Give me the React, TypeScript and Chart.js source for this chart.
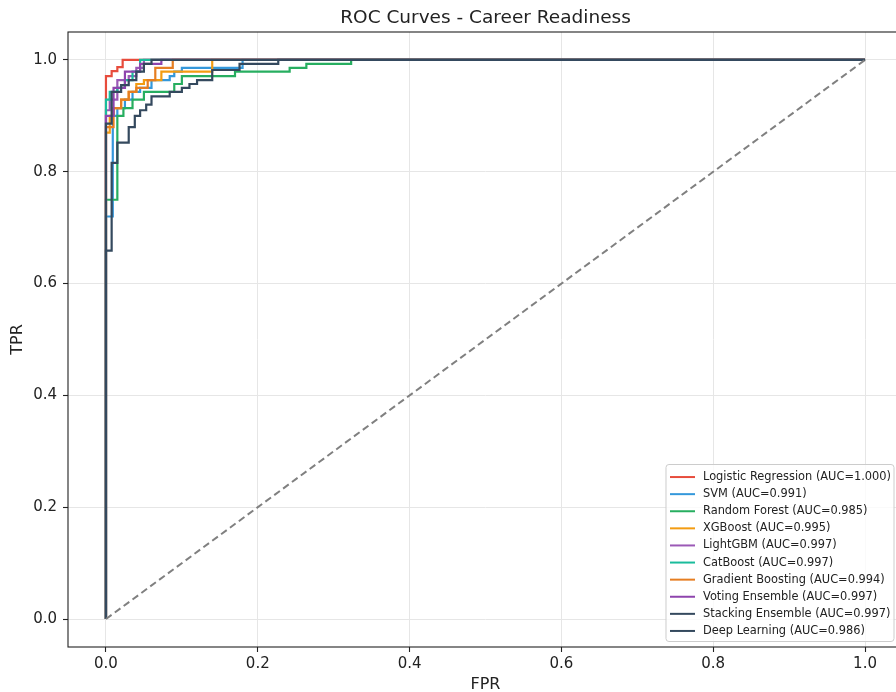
import React, { useEffect, useRef } from "react";
import { Chart, registerables } from "chart.js";

Chart.register(...registerables);

const TITLE = "ROC Curves - Career Readiness";
const X_LABEL = "FPR";
const Y_LABEL = "TPR";
const xTicks = [0, 0.2, 0.4, 0.6, 0.8, 1.0];
const yTicks = [0, 0.2, 0.4, 0.6, 0.8, 1.0];

const modelNames = [
  "Logistic Regression",
  "SVM",
  "Random Forest",
  "XGBoost",
  "LightGBM",
  "CatBoost",
  "Gradient Boosting",
  "Voting Ensemble",
  "Stacking Ensemble",
  "Deep Learning",
];
const aucValues = ["1.000", "0.991", "0.985", "0.995", "0.997", "0.997", "0.994", "0.997", "0.997", "0.986"];
const modelColors = [
  "#e74c3c", "#3498db", "#27ae60", "#f39c12", "#9b59b6",
  "#1abc9c", "#e67e22", "#8e44ad", "#34495e", "#34495e",
];

const lrFpr = [0, 0, 0.0075, 0.0075, 0.015, 0.015, 0.022, 0.022, 1];
const lrTpr = [0, 0.971, 0.971, 0.98, 0.98, 0.987, 0.987, 1, 1];

const svmFpr = [0, 0, 0.009, 0.009, 0.015, 0.015, 0.025, 0.025, 0.035, 0.035, 0.045, 0.045, 0.06, 0.06, 0.084, 0.084, 0.09, 0.09, 0.1, 0.1, 0.18, 0.18, 1];
const svmTpr = [0, 0.72, 0.72, 0.9, 0.9, 0.914, 0.914, 0.929, 0.929, 0.943, 0.943, 0.95, 0.95, 0.964, 0.964, 0.971, 0.971, 0.979, 0.979, 0.986, 0.986, 1, 1];

const rfFpr = [0, 0, 0.015, 0.015, 0.023, 0.023, 0.035, 0.035, 0.05, 0.05, 0.09, 0.09, 0.1, 0.1, 0.17, 0.17, 0.242, 0.242, 0.264, 0.264, 0.323, 0.323, 1];
const rfTpr = [0, 0.75, 0.75, 0.9, 0.9, 0.914, 0.914, 0.929, 0.929, 0.943, 0.943, 0.957, 0.957, 0.971, 0.971, 0.979, 0.979, 0.986, 0.986, 0.993, 0.993, 1, 1];

const xgbFpr = [0, 0, 0.005, 0.005, 0.01, 0.01, 0.02, 0.02, 0.03, 0.03, 0.04, 0.04, 0.05, 0.05, 0.073, 0.073, 0.14, 0.14, 1];
const xgbTpr = [0, 0.87, 0.87, 0.9, 0.9, 0.914, 0.914, 0.929, 0.929, 0.943, 0.943, 0.957, 0.957, 0.964, 0.964, 0.979, 0.979, 1, 1];

const lgbFpr = [0, 0, 0.005, 0.005, 0.015, 0.015, 0.03, 0.03, 0.04, 0.04, 0.05, 0.05, 1];
const lgbTpr = [0, 0.91, 0.91, 0.929, 0.929, 0.964, 0.964, 0.971, 0.971, 0.986, 0.986, 1, 1];

const catFpr = [0, 0, 0.005, 0.005, 0.015, 0.015, 0.025, 0.025, 0.035, 0.035, 0.045, 0.045, 1];
const catTpr = [0, 0.929, 0.929, 0.943, 0.943, 0.95, 0.95, 0.964, 0.964, 0.979, 0.979, 1, 1];

const gbFpr = [0, 0, 0.01, 0.01, 0.02, 0.02, 0.03, 0.03, 0.04, 0.04, 0.055, 0.055, 0.065, 0.065, 0.088, 0.088, 1];
const gbTpr = [0, 0.88, 0.88, 0.914, 0.914, 0.929, 0.929, 0.943, 0.943, 0.95, 0.95, 0.964, 0.964, 0.986, 0.986, 1, 1];

const voteFpr = [0, 0, 0.01, 0.01, 0.025, 0.025, 0.045, 0.045, 0.073, 0.073, 1];
const voteTpr = [0, 0.9, 0.9, 0.95, 0.95, 0.979, 0.979, 0.993, 0.993, 1, 1];

const stackFpr = [0, 0, 0.0075, 0.0075, 0.02, 0.02, 0.03, 0.03, 0.04, 0.04, 0.05, 0.05, 0.06, 0.06, 1];
const stackTpr = [0, 0.886, 0.886, 0.943, 0.943, 0.955, 0.955, 0.964, 0.964, 0.979, 0.979, 0.993, 0.993, 1, 1];

const dlFpr = [0, 0, 0.0075, 0.0075, 0.015, 0.015, 0.03, 0.03, 0.038, 0.038, 0.045, 0.045, 0.053, 0.053, 0.06, 0.06, 0.084, 0.084, 0.1, 0.1, 0.11, 0.11, 0.12, 0.12, 0.14, 0.14, 0.176, 0.176, 0.227, 0.227, 1];
const dlTpr = [0, 0.659, 0.659, 0.816, 0.816, 0.852, 0.852, 0.88, 0.88, 0.9, 0.9, 0.91, 0.91, 0.92, 0.92, 0.935, 0.935, 0.943, 0.943, 0.95, 0.95, 0.957, 0.957, 0.964, 0.964, 0.982, 0.982, 0.993, 0.993, 1, 1];

const diagFpr = [0, 1];
const diagTpr = [0, 1];

const fprSeries = [lrFpr, svmFpr, rfFpr, xgbFpr, lgbFpr, catFpr, gbFpr, voteFpr, stackFpr, dlFpr];
const tprSeries = [lrTpr, svmTpr, rfTpr, xgbTpr, lgbTpr, catTpr, gbTpr, voteTpr, stackTpr, dlTpr];

const FONT = "'DejaVu Sans', sans-serif";

function zip(xs: number[], ys: number[]) {
  const n = Math.min(xs.length, ys.length);
  const out: { x: number; y: number }[] = [];
  for (let i = 0; i < n; i++) out.push({ x: xs[i], y: ys[i] });
  return out;
}

const framePlugin = {
  id: "frameAndTitle",
  afterDraw(chart: any) {
    const { ctx, chartArea } = chart;
    ctx.save();
    ctx.strokeStyle = "#222";
    ctx.lineWidth = 1.1;
    ctx.strokeRect(chartArea.left, chartArea.top, chartArea.right - chartArea.left, chartArea.bottom - chartArea.top);
    // title
    ctx.fillStyle = "#222";
    ctx.font = `18.5px ${FONT}`;
    ctx.textAlign = "center";
    ctx.textBaseline = "middle";
    const cx = (chartArea.left + chartArea.right) / 2;
    ctx.fillText(TITLE, cx, chartArea.top - 14);

    // legend
    const n = modelNames.length;
    const labels = modelNames.map((m, i) => `${m} (AUC=${aucValues[i]})`);
    ctx.font = `11.4px ${FONT}`;
    const maxW = Math.max(...labels.map((l) => ctx.measureText(l).width));
    const rowH = 17.1;
    const lineLen = 25;
    const padL = 4;
    const gap = 8;
    const boxW = padL + lineLen + gap + maxW + 3;
    const boxH = rowH * n + 6;
    const right = chartArea.right - 9;
    const bottom = chartArea.bottom - 5.5;
    const left = right - boxW;
    const top = bottom - boxH;
    ctx.beginPath();
    const r = 3;
    ctx.moveTo(left + r, top);
    ctx.lineTo(right - r, top);
    ctx.quadraticCurveTo(right, top, right, top + r);
    ctx.lineTo(right, bottom - r);
    ctx.quadraticCurveTo(right, bottom, right - r, bottom);
    ctx.lineTo(left + r, bottom);
    ctx.quadraticCurveTo(left, bottom, left, bottom - r);
    ctx.lineTo(left, top + r);
    ctx.quadraticCurveTo(left, top, left + r, top);
    ctx.closePath();
    ctx.fillStyle = "rgba(255,255,255,0.8)";
    ctx.fill();
    ctx.strokeStyle = "#cccccc";
    ctx.lineWidth = 1;
    ctx.stroke();
    ctx.textAlign = "left";
    ctx.textBaseline = "middle";
    for (let i = 0; i < n; i++) {
      const y = top + 3 + rowH * (i + 0.5) + 1;
      ctx.strokeStyle = modelColors[i];
      ctx.lineWidth = 2;
      ctx.beginPath();
      ctx.moveTo(left + padL, y);
      ctx.lineTo(left + padL + lineLen, y);
      ctx.stroke();
      ctx.fillStyle = "#222";
      ctx.fillText(labels[i], left + padL + lineLen + gap, y);
    }
    ctx.restore();
  },
};

export default function App() {
  const canvasRef = useRef<HTMLCanvasElement | null>(null);

  useEffect(() => {
    if (!canvasRef.current) return;
    const n = modelNames.length;
    const datasets: any[] = modelNames.map((m, i) => ({
      label: `${m} (AUC=${aucValues[i]})`,
      data: zip(fprSeries[i], tprSeries[i]),
      borderColor: modelColors[i],
      backgroundColor: modelColors[i],
      borderWidth: 2.2,
      pointRadius: 0,
      tension: 0,
      fill: false,
      order: n - i + 1,
    }));
    datasets.push({
      label: "Random",
      data: zip(diagFpr, diagTpr),
      borderColor: "#808080",
      borderWidth: 2,
      borderDash: [7, 4],
      pointRadius: 0,
      fill: false,
      order: 0,
    });

    const chart = new Chart(canvasRef.current, {
      type: "line",
      data: { datasets },
      plugins: [framePlugin],
      options: {
        animation: false,
        responsive: false,
        maintainAspectRatio: false,
        layout: { padding: { top: 32, right: 0, left: 0, bottom: 0 } },
        plugins: {
          legend: { display: false },
          title: { display: false },
          tooltip: { enabled: false },
        },
        scales: {
          x: {
            type: "linear",
            min: -0.05,
            max: 1.05,
            afterBuildTicks: (scale: any) => {
              scale.ticks = xTicks.map((v) => ({ value: v }));
            },
            afterFit: (scale: any) => {
              scale.height = 45;
            },
            ticks: {
              color: "#222",
              font: { family: FONT, size: 15 },
              padding: 3,
              maxRotation: 0,
              callback: (v: any) => Number(v).toFixed(1),
            },
            grid: {
              color: "#e6e6e6",
              lineWidth: 1,
              tickLength: 5,
              tickColor: "#222",
              tickWidth: 1.1,
            },
            border: { display: false },
            title: {
              display: true,
              text: X_LABEL,
              color: "#222",
              font: { family: FONT, size: 16 },
              padding: { top: 0, bottom: -2 },
            },
          },
          y: {
            type: "linear",
            min: -0.05,
            max: 1.05,
            afterBuildTicks: (scale: any) => {
              scale.ticks = yTicks.map((v) => ({ value: v }));
            },
            afterFit: (scale: any) => {
              scale.width = 68;
            },
            ticks: {
              color: "#222",
              font: { family: FONT, size: 15 },
              padding: 6,
              callback: (v: any) => Number(v).toFixed(1),
            },
            grid: {
              color: "#e6e6e6",
              lineWidth: 1,
              tickLength: 5,
              tickColor: "#222",
              tickWidth: 1.1,
            },
            border: { display: false },
            title: {
              display: true,
              text: Y_LABEL,
              color: "#222",
              font: { family: FONT, size: 16 },
              padding: { top: 8, bottom: 0 },
            },
          },
        },
      },
    });
    return () => chart.destroy();
  }, []);

  return (
    <div style={{ position: "fixed", left: 0, top: 0, width: 896, height: 692, overflow: "hidden", background: "#fff" }}>
      <canvas ref={canvasRef} width={903} height={692} style={{ display: "block", width: 903, height: 692 }} />
    </div>
  );
}
